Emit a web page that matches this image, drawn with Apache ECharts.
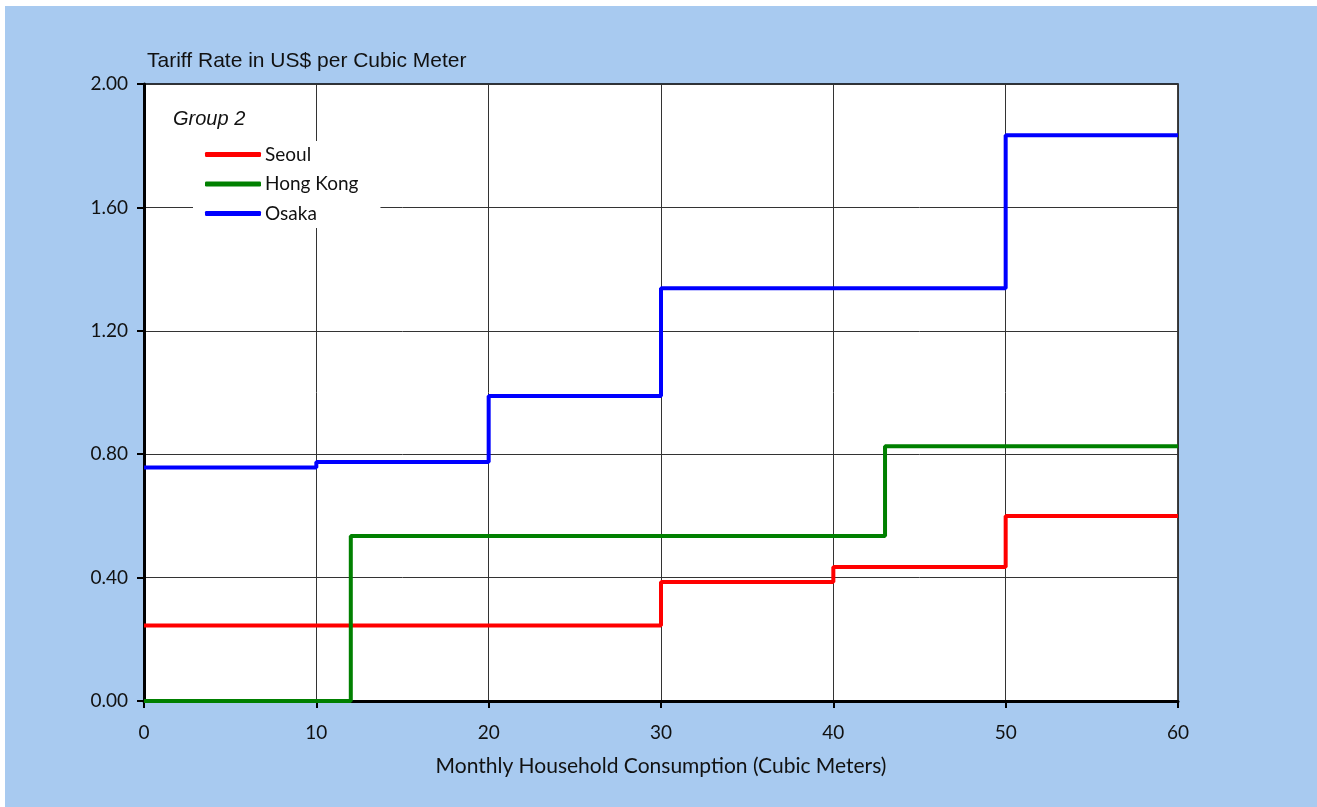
<!DOCTYPE html>
<html>
<head>
<meta charset="utf-8">
<script src="https://cdn.jsdelivr.net/npm/echarts@6/dist/echarts.min.js"></script>
<style>
html,body{margin:0;padding:0;background:#fff;}
#c{position:absolute;left:5px;top:6px;width:1312px;height:801px;}
</style>
</head>
<body>
<div id="c"></div>
<script>
// Step breakpoints (x = monthly consumption, m3) and tariff (US$/m3) from each breakpoint
const seoulX = [0, 30, 40, 50, 60];
const seoulY = [0.245, 0.386, 0.434, 0.600, 0.600];
const hongKongX = [0, 12, 43, 60];
const hongKongY = [0.000, 0.535, 0.826, 0.826];
const osakaX = [0, 10, 20, 30, 50, 60];
const osakaY = [0.757, 0.775, 0.989, 1.338, 1.834, 1.834];
const seriesNames = ['Seoul', 'Hong Kong', 'Osaka'];
const seriesColors = ['#ff0000', '#008000', '#0000ff'];

function pairs(xs, ys){ return xs.map((x,i)=>[x, ys[i]]); }

const chart = echarts.init(document.getElementById('c'), null, {renderer:'canvas'});
const humanist = 'Lato';
const datasets = [pairs(seoulX, seoulY), pairs(hongKongX, hongKongY), pairs(osakaX, osakaY)];

chart.setOption({
  animation:false,
  backgroundColor:'#a8caf0',
  title:{
    text:'Tariff Rate in US$ per Cubic Meter',
    left:137, top:40,
    textStyle:{fontFamily:'Liberation Sans', fontWeight:'normal', fontSize:21, color:'#111'}
  },
  graphic:[{
    type:'text', left:168, top:103, z:10,
    style:{text:'Group 2', font:'italic 20px "Liberation Sans"', fill:'#111'}
  }],
  legend:{
    orient:'vertical', left:188, top:135,
    backgroundColor:'#ffffff',
    padding:[4,22,5,12],
    itemWidth:56, itemHeight:5, itemGap:10.5,
    icon:'roundRect',
    textStyle:{fontFamily:humanist, fontSize:19, color:'#111', padding:[0,0,0,-1]},
    data:seriesNames.map((n,i)=>({name:n, itemStyle:{color:seriesColors[i]}}))
  },
  grid:{
    left:139, right:139, top:78, bottom:106,
    show:true, backgroundColor:'#ffffff', borderColor:'#000', borderWidth:1.5
  },
  xAxis:{
    type:'value', min:0, max:60, interval:10,
    name:'Monthly Household Consumption (Cubic Meters)',
    nameLocation:'middle', nameGap:55,
    nameTextStyle:{fontFamily:humanist, fontSize:21, color:'#111'},
    axisLine:{lineStyle:{color:'#000', width:3}},
    axisTick:{show:true, length:7, lineStyle:{color:'#000', width:2}},
    axisLabel:{fontFamily:humanist, fontSize:19, color:'#111', margin:22},
    splitLine:{show:true, lineStyle:{color:'#333', width:1}}
  },
  yAxis:{
    type:'value', min:0, max:2, interval:0.4,
    axisLine:{show:true, lineStyle:{color:'#000', width:3}},
    axisTick:{show:true, length:7, lineStyle:{color:'#000', width:2}},
    axisLabel:{fontFamily:humanist, fontSize:19, color:'#111', margin:16,
      formatter:v=>v.toFixed(2)},
    splitLine:{show:true, lineStyle:{color:'#333', width:1}}
  },
  series: seriesNames.map((n,i)=>({
    name:n, type:'line', step:'end', symbol:'none',
    data:datasets[i],
    color:seriesColors[i],
    lineStyle:{color:seriesColors[i], width:4},
    z:3+i
  }))
});
</script>
</body>
</html>
